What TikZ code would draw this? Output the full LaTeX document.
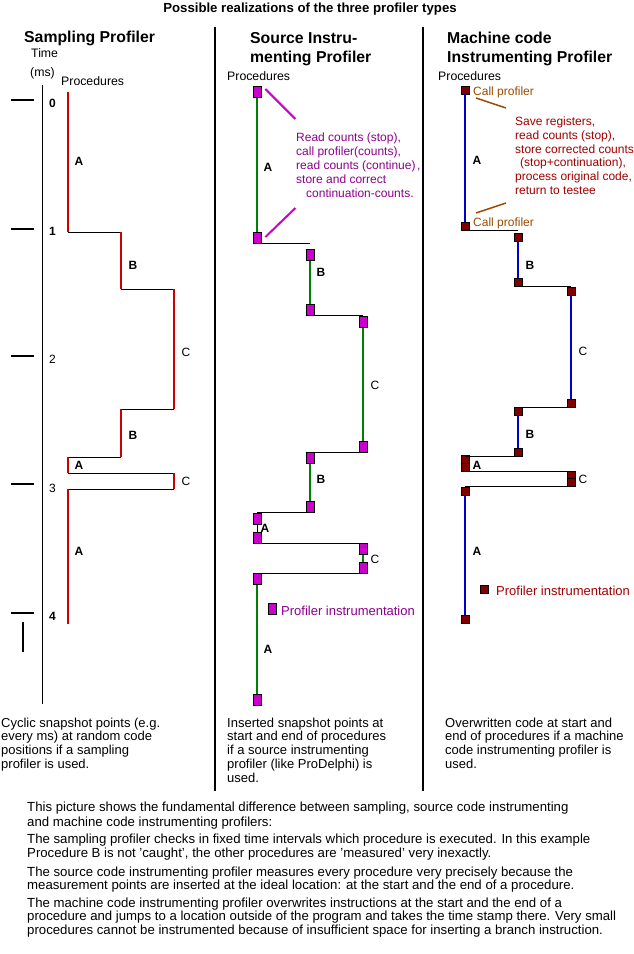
\documentclass[tikz,border=0pt]{standalone}
\usepackage{fontspec}
\setmainfont{Liberation Sans}
\usepackage{tikz}
\usetikzlibrary{calc}
\definecolor{sampred}{RGB}{204,0,0}
\definecolor{srcgreen}{RGB}{0,128,0}
\definecolor{srcmag}{RGB}{204,0,204}
\definecolor{srcpurple}{RGB}{140,0,140}
\definecolor{mcblue}{RGB}{0,0,204}
\definecolor{mcmaroon}{RGB}{128,0,0}
\definecolor{mcred}{RGB}{160,0,0}
\definecolor{mcbrown}{RGB}{153,76,0}

\begin{document}
\begin{tikzpicture}[x=1pt, y=-1pt,
    txt/.style={inner sep=0pt, font=\fontsize{12.3}{14}\selectfont},
    blk/.style={txt, anchor=north west, align=left},
    lbl/.style={inner sep=0pt, anchor=base, font=\fontsize{12}{14}\selectfont\bfseries},
    lblc/.style={lbl, font=\fontsize{12}{14}\selectfont},
    head/.style={inner sep=0pt, anchor=north west, align=left, font=\fontsize{15.8}{19}\selectfont\bfseries},
    sampline/.style={draw=sampred, line width=2pt},
    joinline/.style={draw=black, line width=1pt},
    srcline/.style={draw=srcgreen, line width=2pt},
    mcline/.style={draw=mcblue, line width=2pt},
    srcbox/.style={draw, fill=srcmag, line width=0.8pt, inner sep=0pt, minimum width=8pt, minimum height=11pt},
    mcbox/.style={draw, fill=mcmaroon, line width=0.8pt, inner sep=0pt, minimum size=8pt},
    divider/.style={line width=2.5pt}]

  \fill[white] (0,0) rectangle (634,954);
  \useasboundingbox (0,0) rectangle (634,954);

  \node[inner sep=0pt, anchor=base, font=\fontsize{13.2}{15}\selectfont\bfseries] (title) at (310,12.7) {Possible realizations of the three profiler types};
  \draw[divider] (215,27) coordinate (div1top) -- (215,791) coordinate (div1bot);
  \draw[divider] (423,27) coordinate (div2top) -- (423,791) coordinate (div2bot);

  \node[head, anchor=base west] (samphead) at (24,42) {Sampling Profiler};
  \node[txt, anchor=base west] (time) at (31,57) {Time};
  \node[txt, anchor=base west] (ms) at (30,76) {(ms)};
  \node[txt, anchor=base west] (sampproc) at (61,85) {Procedures};
  \draw (42,85) coordinate (axistop) -- (42,704) coordinate (axisbot);
  \foreach \t/\y/\b/\f in {0/100/107/\bfseries, 1/229/235/\bfseries, 2/356/363/\mdseries, 3/484/492/\mdseries, 4/613/620/\bfseries} {
    \draw[line width=2pt] (11,\y) -- (34,\y);
    \node[txt, anchor=base west, font=\fontsize{12}{14}\selectfont\f] (tick\t) at (49,\b) {\t};
  }
  \draw[line width=2pt] (23,622) -- (23,652);

  \foreach \n/\x/\y in {0/68/92, 1/68/232, 2/121/232, 3/121/289, 4/174/289, 5/174/409, 6/121/409,
                        7/121/457, 8/68/457, 9/68/473, 10/174/473, 11/174/489, 12/68/489, 13/68/624}
    \coordinate (p\n) at (\x,\y);
  \foreach \a/\b in {1/2, 3/4, 5/6, 7/8, 9/10, 11/12}
    \draw[joinline] (p\a) -- (p\b);
  \foreach \a/\b in {0/1, 2/3, 4/5, 6/7, 8/9, 10/11, 12/13}
    \draw[sampline] (p\a) -- (p\b);
  \foreach \n/\t/\x/\y/\s in {1/A/79/165/lbl, 2/B/133/269/lbl, 3/C/186/356/lblc, 4/B/133/439/lbl,
                              5/A/79/469/lbl, 6/C/186/485/lblc, 7/A/79/555/lbl}
    \node[\s] (samplbl\n) at (\x,\y) {\t};
  \node[blk, font=\fontsize{13}{13.7}\selectfont] (sampnote) at (1,717.5) {Cyclic snapshot points (e.g.\\every ms) at random code\\positions if a sampling\\profiler is used.};

  \node[head] (srchead) at (250,32) {Source Instru-\\menting Profiler};
  \node[txt, anchor=base west] (srcproc) at (227,80) {Procedures};
  \foreach \n/\x/\y in {a1/257/92, a2/257/238, b1/310/255, b2/310/310, c1/363/322, c2/363/447, b3/310/458,
                        b4/310/507, a3/257/519, a4/257/538, c3/363/549, c4/363/568, a5/257/579, a6/257/700}
    \node[srcbox] (s\n) at (\x,\y) {};
  \foreach \a/\b in {a1/a2, b1/b2, c1/c2, b3/b4, c3/c4, a5/a6}
    \draw[srcline] (s\a) -- (s\b);
  \draw[joinline] (sa3) -- (sa4);
  \foreach \a/\b in {a2/b1, b2/c1, c2/b3, b4/a3, a4/c3, c4/a5}
    \draw[joinline] (s\a.south) -- (s\a.south -| s\b);
  \foreach \n/\t/\x/\y/\s in {1/A/268/171/lbl, 2/B/321/276/lbl, 3/C/375/389/lblc, 4/B/321/483/lbl,
                              5/A/265/532/lbl, 6/C/375/563/lblc, 7/A/268/653/lbl}
    \node[\s] (srclbl\n) at (\x,\y) {\t};
  \draw[draw=srcmag, line width=2pt] ([xshift=4pt, yshift=3pt]sa1.east) -- ++(30,30);
  \draw[draw=srcmag, line width=2pt] ([xshift=4pt, yshift=1pt]sa2.east) -- ++(30,-29);
  \node[blk, text=srcpurple, font=\fontsize{12}{14}\selectfont] (srcnote) at (296,132.5) {Read counts (stop),\\call profiler(counts),\\read counts (continue)\hspace{1.5pt},\\store and correct\\\hspace*{10pt}continuation-counts.};
  \node[srcbox] (srckey) at (272,609) {};
  \node[txt, anchor=base west, text=srcpurple, font=\fontsize{13}{14}\selectfont] (srckeytxt) at (281,615) {Profiler instrumentation};
  \node[blk, font=\fontsize{13}{13.8}\selectfont] (srcfoot) at (227,717.5) {Inserted snapshot points at\\start and end of procedures\\if a source instrumenting\\profiler (like ProDelphi) is\\used.};

  \node[head] (mchead) at (447,32) {Machine code\\Instrumenting Profiler};
  \node[txt, anchor=base west] (mcproc) at (438,80) {Procedures};
  \foreach \n/\x/\y in {a1/465/90, a2/465/226, b1/518/237, b2/518/282, c1/571/291, c2/571/403, b3/518/411,
                        b4/518/452, a3/465/459, a4/465/467, c3/571/475, c4/571/482, a5/465/491, a6/465/619}
    \node[mcbox] (m\n) at (\x,\y) {};
  \foreach \a/\b in {a1/a2, b1/b2, c1/c2, b3/b4, a5/a6}
    \draw[mcline] (m\a) -- (m\b);
  \foreach \a/\b in {a2/b1, b2/c1, c2/b3, b4/a3, a4/c3, c4/a5}
    \draw[joinline] (m\a.south) -- (m\a.south -| m\b);
  \foreach \n/\t/\x/\y/\s in {1/A/477/164/lbl, 2/B/530/269/lbl, 3/C/583/355/lblc, 4/B/530/438/lbl,
                              5/A/477/469/lbl, 6/C/583/483/lblc, 7/A/477/555/lbl}
    \node[\s] (mclbl\n) at (\x,\y) {\t};
  \node[txt, anchor=base west, text=mcbrown, font=\fontsize{12}{14}\selectfont] (mccall1) at (473,95) {Call profiler};
  \node[txt, anchor=base west, text=mcbrown, font=\fontsize{12}{14}\selectfont] (mccall2) at (473,226) {Call profiler};
  \draw[draw=mcbrown, line width=1.5pt] ([shift={(11,8)}]ma1.center) -- ++(30,10);
  \draw[draw=mcbrown, line width=1.5pt] ([shift={(11,-13)}]ma2.center) -- ++(30,-10);
  \node[blk, text=mcred, font=\fontsize{12}{13.8}\selectfont] (mcnote) at (515,116.5) {Save registers,\\read counts (stop),\\store corrected counts\\\hspace*{5pt}(stop+continuation),\\process original code,\\return to testee};
  \node[mcbox] (mckey) at (484,589) {};
  \node[txt, anchor=base west, text=mcred, font=\fontsize{13}{14}\selectfont] (mckeytxt) at (496,595) {Profiler instrumentation};
  \node[blk, font=\fontsize{13}{13.7}\selectfont] (mcfoot) at (445,717.5) {Overwritten code at start and\\end of procedures if a machine\\code instrumenting profiler is\\used.};

  \node[blk, font=\fontsize{13.2}{15}\selectfont] (para1) at (27,801.5) {This picture shows the fundamental difference between sampling, source code instrumenting\\and machine code instrumenting profilers:};
  \node[blk, font=\fontsize{13.2}{14}\selectfont] (para2) at (27,833.5) {The sampling profiler checks in fixed time intervals which procedure is executed. In this example\\Procedure B is not 'caught', the other procedures are 'measured' very inexactly.};
  \node[blk, font=\fontsize{13.2}{13.5}\selectfont] (para3) at (27,866.5) {The source code instrumenting profiler measures every procedure very precisely because the\\measurement points are inserted at the ideal location: at the start and the end of a procedure.};
  \node[blk, font=\fontsize{13.2}{13.5}\selectfont] (para4) at (27,897.5) {The machine code instrumenting profiler overwrites instructions at the start and the end of a\\procedure and jumps to a location outside of the program and takes the time stamp there. Very small\\procedures cannot be instrumented because of insufficient space for inserting a branch instruction.};
\end{tikzpicture}
\end{document}
